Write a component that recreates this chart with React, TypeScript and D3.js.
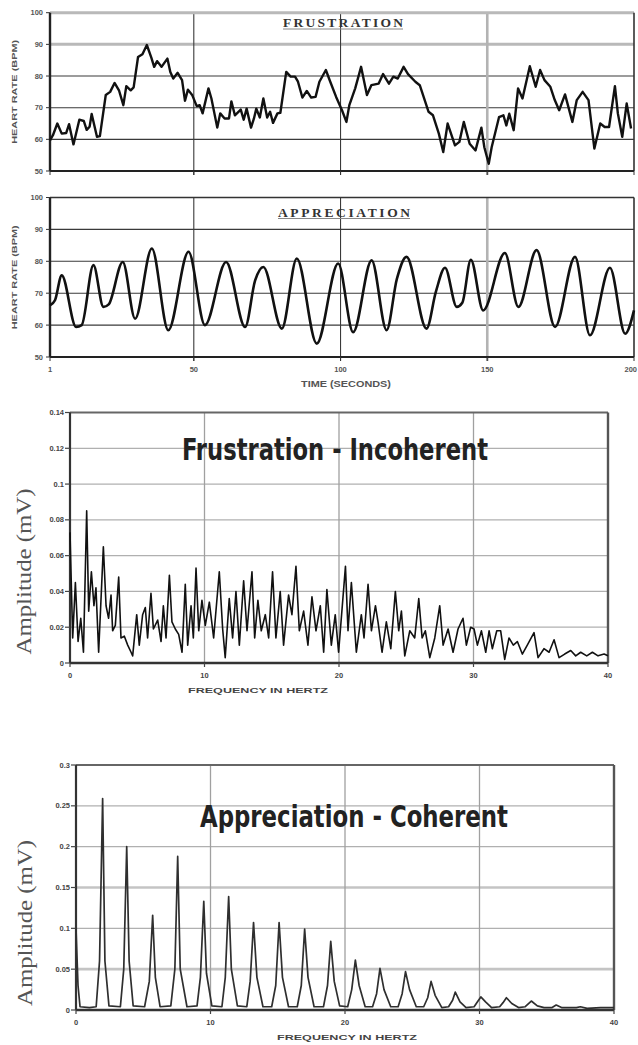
import React, { useEffect, useRef } from 'react';
import * as d3 from 'd3';

// heart rate traces, [seconds, beats per minute]
const frustrationBpm: [number, number][] = [
  [1, 59.7], [2, 61.3], [3.5, 65], [5, 61.8], [6.5, 62], [7.5, 64.8], [9, 58.4], [11, 66.2],
  [12.5, 65.8], [13.5, 63], [14.5, 64], [15.2, 68], [17, 60.8], [18, 61], [20, 74], [21.5, 75],
  [23, 77.8], [24.5, 75.5], [26, 70.8], [27, 76.8], [28.5, 75.5], [29.5, 76.4], [31, 86], [32.5, 86.9],
  [34, 89.8], [35.5, 85.9], [36.5, 82.9], [37.5, 84.7], [39, 82.9], [41, 85.5], [42, 81.3], [43, 79.2],
  [44.5, 81], [46, 78.7], [47, 72.2], [48, 75.7], [49.5, 73.9], [51, 70.5], [52, 70.8], [53, 68.2],
  [55, 76.1], [56, 72.9], [58, 63.7], [59, 68.2], [60.5, 66.6], [62, 66.6], [62.8, 72], [64, 67.6],
  [66, 69.4], [67, 66.2], [68, 69.7], [69.5, 63.7], [70.5, 66.6], [71.3, 69.7], [72.5, 66.9], [73.7, 72.9],
  [75, 66.9], [76, 68.7], [77, 65.2], [78.5, 68.2], [79.5, 68.4], [81.5, 81.3], [83, 79.8], [84.5, 79.8],
  [85.5, 78.2], [87, 73.2], [88.5, 75.3], [90, 73.2], [91.5, 73.4], [92.8, 78.2], [95, 81.9], [96.5, 78.2],
  [98.5, 73.4], [100.5, 69.2], [102, 65.5], [103, 70.8], [105, 76.1], [107, 82.9], [109, 74], [110.5, 77.1],
  [113, 77.6], [114.5, 80.6], [116.5, 77.6], [118, 79.8], [119.5, 79.2], [121.5, 82.9], [123, 80.6], [125.5, 78.2],
  [127, 77.1], [130, 68.7], [131.5, 67.6], [133.5, 61.8], [135, 56], [136.5, 65], [139, 58.1], [140.5, 59.2],
  [142, 65.5], [144, 58.6], [146, 56.5], [148, 63.7], [149, 57.5], [150.5, 52.3], [151.5, 57.5], [154, 67],
  [155.5, 67.6], [156.5, 64.4], [157.5, 68.1], [159, 62.9], [160.5, 76.1], [162, 72.9], [164.5, 83.1], [166.5, 76.6],
  [168, 81.9], [169.5, 78.7], [171.5, 76.6], [173, 72.4], [174.5, 69.2], [176.5, 74.2], [179, 65.5], [180.5, 72.4],
  [182.5, 75], [184.5, 72.4], [186.5, 57.1], [188.5, 65], [190, 63.9], [191.5, 63.9], [193.5, 76.8], [194.5, 68.2],
  [196, 60.8], [197.5, 71.3], [199, 63.4],
];

const appreciationBpm: [number, number][] = [
  [1, 66.2], [2.7, 67.8], [5, 75.6], [9.9, 59.4], [11.8, 60], [15.8, 78.8], [19.2, 65.7], [21, 66.5],
  [25.8, 79.8], [30, 62], [35.7, 84], [41.3, 58.4], [48.2, 83], [53.8, 60], [61, 79.8], [67.5, 59.4],
  [70.9, 74], [73.7, 78.2], [80, 58.9], [85.1, 80.9], [91.9, 54.2], [99.2, 79.3], [104.3, 57.8], [110.6, 80.3],
  [115.7, 58.4], [119.2, 74.5], [122.5, 81.4], [129.3, 58.9], [132.5, 70.5], [135.6, 78], [139.6, 65.7], [141.5, 67],
  [144.4, 80.5], [148.6, 64.6], [156, 82.6], [160.6, 65.7], [166.8, 83.5], [173.1, 59.4], [179.9, 81.4], [185, 56.8],
  [191.8, 78], [197, 57.3], [200, 64.6],
];

const bpmTicks = [50, 60, 70, 80, 90, 100];
const secondTicks = [1, 50, 100, 150, 200];

// spectra, [hertz, millivolts]
const incoherentSpectrum: [number, number][] = [
  [0, 0.073], [0.2, 0.014], [0.4, 0.045], [0.6, 0.012], [0.8, 0.025], [1.0, 0.006], [1.24, 0.085], [1.39, 0.029],
  [1.59, 0.051], [1.78, 0.032], [1.93, 0.042], [2.13, 0.006], [2.48, 0.065], [2.68, 0.032], [2.87, 0.025], [3.05, 0.038],
  [3.17, 0.018], [3.37, 0.021], [3.62, 0.048], [3.79, 0.014], [4.04, 0.015], [4.29, 0.01], [4.54, 0.006], [4.66, 0.004],
  [4.96, 0.027], [5.15, 0.01], [5.4, 0.027], [5.6, 0.031], [5.77, 0.014], [6.02, 0.039], [6.2, 0.019], [6.52, 0.024],
  [6.77, 0.012], [6.94, 0.032], [7.14, 0.014], [7.39, 0.049], [7.58, 0.023], [7.83, 0.019], [8.08, 0.016], [8.33, 0.006],
  [8.57, 0.044], [8.75, 0.01], [9.0, 0.032], [9.17, 0.014], [9.37, 0.053], [9.57, 0.018], [9.81, 0.035], [10.06, 0.021],
  [10.36, 0.034], [10.68, 0.014], [11.1, 0.051], [11.35, 0.019], [11.54, 0.003], [11.84, 0.036], [12.09, 0.014], [12.34, 0.04],
  [12.59, 0.01], [12.91, 0.046], [13.16, 0.018], [13.53, 0.051], [13.73, 0.014], [13.97, 0.035], [14.22, 0.018], [14.52, 0.027],
  [14.77, 0.014], [15.06, 0.051], [15.31, 0.014], [15.63, 0.04], [15.88, 0.01], [16.25, 0.038], [16.5, 0.027], [16.8, 0.054],
  [17.05, 0.018], [17.37, 0.029], [17.69, 0.01], [17.99, 0.037], [18.29, 0.018], [18.61, 0.032], [18.86, 0.006], [19.1, 0.041],
  [19.43, 0.01], [19.72, 0.027], [19.97, 0.006], [20.48, 0.054], [20.67, 0.018], [20.92, 0.045], [21.29, 0.006], [21.66, 0.027],
  [21.86, 0.014], [22.16, 0.044], [22.41, 0.018], [22.71, 0.032], [22.9, 0.023], [23.2, 0.006], [23.52, 0.023], [23.85, 0.008],
  [24.19, 0.04], [24.44, 0.018], [24.64, 0.029], [24.89, 0.004], [25.26, 0.018], [25.63, 0.014], [25.93, 0.036], [26.18, 0.014],
  [26.42, 0.018], [26.75, 0.003], [27.12, 0.014], [27.49, 0.032], [27.74, 0.01], [28.11, 0.019], [28.48, 0.006], [28.85, 0.019],
  [29.22, 0.025], [29.47, 0.01], [29.79, 0.02], [30.04, 0.019], [30.29, 0.01], [30.59, 0.018], [30.91, 0.006], [31.16, 0.018],
  [31.4, 0.008], [31.73, 0.018], [32.02, 0.018], [32.32, 0.002], [32.64, 0.014], [32.96, 0.01], [33.26, 0.012], [33.63, 0.005],
  [34.0, 0.01], [34.5, 0.017], [34.8, 0.003], [35.24, 0.008], [35.62, 0.006], [35.99, 0.013], [36.36, 0.003], [36.78, 0.005],
  [37.23, 0.007], [37.6, 0.004], [37.97, 0.006], [38.42, 0.004], [38.84, 0.006], [39.26, 0.004], [39.71, 0.005], [40, 0.004],
];

const coherentSpectrum: [number, number][] = [
  [0, 0.1], [0.15, 0.03], [0.3, 0.004], [1.0, 0.003], [1.5, 0.004], [1.75, 0.06], [1.98, 0.259], [2.15, 0.06],
  [2.45, 0.005], [3.3, 0.004], [3.55, 0.05], [3.77, 0.2], [3.95, 0.06], [4.25, 0.005], [5.1, 0.004], [5.45, 0.035],
  [5.7, 0.116], [5.9, 0.04], [6.25, 0.004], [7.05, 0.005], [7.35, 0.05], [7.56, 0.188], [7.75, 0.05], [8.25, 0.004],
  [9.0, 0.005], [9.25, 0.04], [9.5, 0.133], [9.7, 0.045], [10.1, 0.005], [10.85, 0.004], [11.1, 0.04], [11.35, 0.139],
  [11.55, 0.05], [12.0, 0.005], [12.7, 0.004], [12.95, 0.035], [13.2, 0.107], [13.45, 0.04], [13.9, 0.004], [14.55, 0.004],
  [14.85, 0.03], [15.1, 0.107], [15.35, 0.04], [15.8, 0.004], [16.45, 0.004], [16.75, 0.03], [17.0, 0.099], [17.25, 0.04],
  [17.7, 0.004], [18.4, 0.004], [18.7, 0.03], [18.94, 0.084], [19.2, 0.035], [19.6, 0.005], [20.2, 0.004], [20.5, 0.025],
  [20.77, 0.061], [21.05, 0.03], [21.5, 0.004], [22.05, 0.004], [22.35, 0.02], [22.6, 0.051], [22.9, 0.025], [23.4, 0.004],
  [23.95, 0.004], [24.25, 0.02], [24.5, 0.047], [24.8, 0.025], [25.3, 0.004], [25.85, 0.004], [26.15, 0.015], [26.4, 0.035],
  [26.7, 0.018], [27.2, 0.003], [27.7, 0.004], [28.0, 0.012], [28.2, 0.022], [28.55, 0.01], [29.0, 0.003], [29.6, 0.004],
  [29.85, 0.01], [30.1, 0.016], [30.45, 0.01], [30.9, 0.003], [31.5, 0.004], [31.75, 0.009], [32.0, 0.015], [32.4, 0.008],
  [32.9, 0.003], [33.4, 0.004], [33.85, 0.011], [34.3, 0.005], [34.8, 0.003], [35.4, 0.003], [35.7, 0.006], [36.1, 0.003],
  [37.2, 0.003], [37.5, 0.004], [38.0, 0.002], [39.0, 0.003], [40, 0.003],
];

const incoherentTicks = [0, 0.02, 0.04, 0.06, 0.08, 0.1, 0.12, 0.14];
const coherentTicks = [0, 0.05, 0.1, 0.15, 0.2, 0.25, 0.3];
const hertzTicks = [0, 10, 20, 30, 40];

const SANS = "'Liberation Sans', Arial, Helvetica, sans-serif";
const NARROW = "'Liberation Sans Narrow', 'DejaVu Sans Condensed', 'Liberation Sans', sans-serif";
const SERIF = "'Liberation Serif', 'Times New Roman', serif";

function heartPanel(svg, cfg) {
  const { top, bottom, data, curve, title, titleX, titleW, titleBase, grayRows, grayTop, xLabels, width } = cfg;
  const left = 50, right = 634;
  const x = d3.scaleLinear().domain([1, 200]).range([left, right]);
  const y = d3.scaleLinear().domain([50, 100]).range([bottom, top]);
  const g = svg.append('g');

  g.selectAll('line.row').data(bpmTicks.filter(d => d > 50 && d < 100)).enter().append('line')
    .attr('class', 'row')
    .attr('x1', left).attr('x2', right)
    .attr('y1', d => y(d)).attr('y2', d => y(d))
    .attr('stroke', d => grayRows.includes(d) ? '#b9b9b9' : '#3a3a3a')
    .attr('stroke-width', d => grayRows.includes(d) ? 3 : 1.1);

  g.selectAll('line.col').data([50, 100, 150]).enter().append('line')
    .attr('class', 'col')
    .attr('x1', d => x(d)).attr('x2', d => x(d))
    .attr('y1', top).attr('y2', bottom + 4)
    .attr('stroke', d => d === 150 ? '#b3b3b3' : '#3a3a3a')
    .attr('stroke-width', d => d === 150 ? 2.6 : 1.1);

  // frame
  g.append('line').attr('x1', left).attr('x2', right).attr('y1', top).attr('y2', top)
    .attr('stroke', grayTop ? '#b9b9b9' : '#333').attr('stroke-width', grayTop ? 3 : 1.6);
  g.append('line').attr('x1', right).attr('x2', right).attr('y1', top).attr('y2', bottom)
    .attr('stroke', '#333').attr('stroke-width', 1.6);
  g.append('line').attr('x1', left).attr('x2', right).attr('y1', bottom).attr('y2', bottom)
    .attr('stroke', '#222').attr('stroke-width', 2.2);
  g.append('line').attr('x1', left).attr('x2', left).attr('y1', top).attr('y2', bottom)
    .attr('stroke', '#222').attr('stroke-width', 2.4);

  // ticks
  g.selectAll('line.yt').data(bpmTicks).enter().append('line')
    .attr('class', 'yt')
    .attr('x1', left - 4).attr('x2', left).attr('y1', d => y(d)).attr('y2', d => y(d))
    .attr('stroke', '#333').attr('stroke-width', 1);
  g.selectAll('line.xt').data(secondTicks).enter().append('line')
    .attr('class', 'xt')
    .attr('x1', d => x(d)).attr('x2', d => x(d)).attr('y1', bottom).attr('y2', bottom + 4)
    .attr('stroke', '#333').attr('stroke-width', 1);

  g.selectAll('text.yl').data(bpmTicks).enter().append('text')
    .attr('class', 'yl')
    .attr('x', 43).attr('y', d => y(d)).attr('dy', '0.35em')
    .attr('text-anchor', 'end')
    .attr('font-family', SANS).attr('font-size', 7.5).attr('font-weight', 'bold')
    .attr('fill', '#555')
    .text(d => d);

  if (xLabels) {
    g.selectAll('text.xl').data(secondTicks).enter().append('text')
      .attr('class', 'xl')
      .attr('x', d => (d === 200 ? 637 : x(d))).attr('y', bottom + 15)
      .attr('text-anchor', d => (d === 200 ? 'end' : 'middle'))
      .attr('font-family', SANS).attr('font-size', 7.5).attr('font-weight', 'bold')
      .attr('fill', '#555')
      .text(d => d);
  }

  g.append('text')
    .attr('transform', `translate(17,${(top + bottom) / 2}) rotate(-90)`)
    .attr('text-anchor', 'middle')
    .attr('font-family', SANS).attr('font-size', 7.5).attr('font-weight', 'bold')
    .attr('fill', '#555')
    .attr('textLength', 104).attr('lengthAdjust', 'spacingAndGlyphs')
    .text('HEART RATE (BPM)');

  // title
  g.append('text')
    .attr('x', titleX).attr('y', titleBase)
    .attr('font-family', SERIF).attr('font-size', 13.5).attr('font-weight', 'bold')
    .attr('fill', '#333')
    .attr('textLength', titleW).attr('lengthAdjust', 'spacing')
    .text(title);
  g.append('line').attr('x1', titleX).attr('x2', titleX + titleW)
    .attr('y1', titleBase + 2).attr('y2', titleBase + 2)
    .attr('stroke', '#888').attr('stroke-width', 1);

  const line = d3.line<[number, number]>()
    .x(d => x(d[0]))
    .y(d => y(d[1]))
    .curve(curve);

  g.append('path')
    .datum(data)
    .attr('d', line)
    .attr('fill', 'none')
    .attr('stroke', '#111')
    .attr('stroke-width', width)
    .attr('stroke-linejoin', 'round');
}

function spectrumPanel(svg, cfg) {
  const { left, right, top, bottom, max, ticks, tickLabel, data, title, titleX, titleW, titleBase, ampY, ampX, freqX, freqBase, heavyRows, stroke, width } = cfg;
  const x = d3.scaleLinear().domain([0, 40]).range([left, right]);
  const y = d3.scaleLinear().domain([0, max]).range([bottom, top]);
  const g = svg.append('g');

  g.selectAll('line.row').data(ticks.filter(d => d > 0 && d < max)).enter().append('line')
    .attr('class', 'row')
    .attr('x1', left).attr('x2', right)
    .attr('y1', d => y(d)).attr('y2', d => y(d))
    .attr('stroke', d => heavyRows.includes(d) ? '#c4c4c4' : '#b0b0b0')
    .attr('stroke-width', d => heavyRows.includes(d) ? 2.6 : 1.3);

  g.selectAll('line.col').data([10, 20, 30]).enter().append('line')
    .attr('class', 'col')
    .attr('x1', d => x(d)).attr('x2', d => x(d))
    .attr('y1', top).attr('y2', bottom)
    .attr('stroke', '#a0a0a0').attr('stroke-width', 1.3);

  g.append('line').attr('x1', left).attr('x2', right).attr('y1', top).attr('y2', top)
    .attr('stroke', '#666').attr('stroke-width', 2);
  g.append('line').attr('x1', right).attr('x2', right).attr('y1', top).attr('y2', bottom)
    .attr('stroke', '#555').attr('stroke-width', 2.4);
  g.append('line').attr('x1', left).attr('x2', right).attr('y1', bottom).attr('y2', bottom)
    .attr('stroke', '#333').attr('stroke-width', 2.6);
  g.append('line').attr('x1', left).attr('x2', left).attr('y1', top).attr('y2', bottom)
    .attr('stroke', '#333').attr('stroke-width', 2.2);

  g.selectAll('line.yt').data(ticks).enter().append('line')
    .attr('class', 'yt')
    .attr('x1', left - 5).attr('x2', left).attr('y1', d => y(d)).attr('y2', d => y(d))
    .attr('stroke', '#444').attr('stroke-width', 1.2);
  g.selectAll('line.xt').data(hertzTicks).enter().append('line')
    .attr('class', 'xt')
    .attr('x1', d => x(d)).attr('x2', d => x(d)).attr('y1', bottom).attr('y2', bottom + 4)
    .attr('stroke', '#444').attr('stroke-width', 1.2);

  g.selectAll('text.yl').data(ticks).enter().append('text')
    .attr('class', 'yl')
    .attr('x', left - 6).attr('y', d => y(d)).attr('dy', '0.35em')
    .attr('text-anchor', 'end')
    .attr('font-family', SANS).attr('font-size', 7.5).attr('font-weight', 'bold')
    .attr('fill', '#444')
    .text(d => tickLabel(d));

  g.selectAll('text.xl').data(hertzTicks).enter().append('text')
    .attr('class', 'xl')
    .attr('x', d => x(d)).attr('y', bottom + 15)
    .attr('text-anchor', 'middle')
    .attr('font-family', SANS).attr('font-size', 7.5).attr('font-weight', 'bold')
    .attr('fill', '#444')
    .text(d => d);

  g.append('text')
    .attr('x', freqX).attr('y', freqBase)
    .attr('text-anchor', 'middle')
    .attr('font-family', SANS).attr('font-size', 7.5).attr('font-weight', 'bold')
    .attr('fill', '#444')
    .attr('textLength', 140).attr('lengthAdjust', 'spacingAndGlyphs')
    .text('FREQUENCY IN HERTZ');

  g.append('text')
    .attr('transform', `translate(${ampX},${ampY}) rotate(-90)`)
    .attr('text-anchor', 'middle')
    .attr('font-family', SERIF).attr('font-size', 22)
    .attr('fill', '#555')
    .attr('textLength', 166).attr('lengthAdjust', 'spacingAndGlyphs')
    .text('Amplitude (mV)');

  g.append('text')
    .attr('x', titleX).attr('y', titleBase)
    .attr('font-family', NARROW).attr('font-size', 31).attr('font-weight', 'bold')
    .attr('fill', '#222')
    .attr('textLength', titleW).attr('lengthAdjust', 'spacingAndGlyphs')
    .text(title);

  const line = d3.line<[number, number]>()
    .x(d => x(d[0]))
    .y(d => y(d[1]));

  g.append('path')
    .datum(data)
    .attr('d', line)
    .attr('fill', 'none')
    .attr('stroke', stroke)
    .attr('stroke-width', width)
    .attr('stroke-linejoin', 'round');
}

const App = () => {
  const ref = useRef<SVGSVGElement>(null);

  useEffect(() => {
    if (!ref.current) return;
    const svg = d3.select(ref.current);
    svg.selectAll('*').remove();

    svg.append('rect').attr('width', 638).attr('height', 1045).attr('fill', '#fff');

    heartPanel(svg, {
      top: 12.7, bottom: 171, data: frustrationBpm, curve: d3.curveLinear,
      title: 'FRUSTRATION', titleX: 283, titleW: 120, titleBase: 27,
      grayRows: [90], grayTop: true, xLabels: false, width: 2.4,
    });

    heartPanel(svg, {
      top: 197.5, bottom: 357, data: appreciationBpm, curve: d3.curveMonotoneX,
      title: 'APPRECIATION', titleX: 278, titleW: 132, titleBase: 216.5,
      grayRows: [], grayTop: false, xLabels: true, width: 2.6,
    });

    svg.append('text')
      .attr('x', 346).attr('y', 386.5)
      .attr('text-anchor', 'middle')
      .attr('font-family', SANS).attr('font-size', 8.5).attr('font-weight', 'bold')
      .attr('fill', '#555')
      .attr('textLength', 90).attr('lengthAdjust', 'spacingAndGlyphs')
      .text('TIME (SECONDS)');

    spectrumPanel(svg, {
      left: 70, right: 608, top: 412.5, bottom: 663, max: 0.14,
      ticks: incoherentTicks, tickLabel: d => (d === 0 ? '0' : d3.format('~g')(d)),
      data: incoherentSpectrum,
      title: 'Frustration - Incoherent', titleX: 182, titleW: 306, titleBase: 460,
      ampX: 31, ampY: 571.5, freqX: 258, freqBase: 693, heavyRows: [],
      stroke: '#111', width: 1.6,
    });

    spectrumPanel(svg, {
      left: 76, right: 614, top: 765, bottom: 1010, max: 0.3,
      ticks: coherentTicks, tickLabel: d => (d === 0 ? '0' : d3.format('~g')(d)),
      data: coherentSpectrum,
      title: 'Appreciation - Coherent', titleX: 200, titleW: 308, titleBase: 827,
      ampX: 32, ampY: 923, freqX: 347, freqBase: 1040, heavyRows: [0.05, 0.15],
      stroke: '#2f2f2f', width: 1.7,
    });
  }, []);

  return (
    <svg
      ref={ref}
      width={638}
      height={1045}
      style={{ position: 'absolute', left: 0, top: 0, display: 'block' }}
    />
  );
};

export default App;
